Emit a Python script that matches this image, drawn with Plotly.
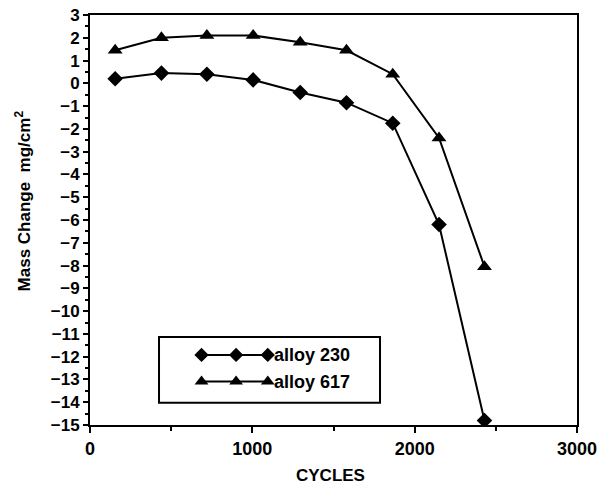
import plotly.graph_objects as go

# Cyclic oxidation: mass change vs. number of cycles
cycles = [155, 440, 720, 1005, 1295, 1580, 1865, 2150, 2430]
alloy_230 = [0.2, 0.45, 0.4, 0.15, -0.4, -0.85, -1.75, -6.2, -14.8]
alloy_617 = [1.45, 2.0, 2.1, 2.1, 1.8, 1.45, 0.4, -2.4, -8.05]

series_names = ["alloy 230", "alloy 617"]
series_symbols = ["diamond", "triangle-up"]

# Hand-drawn legend key: three markers joined by a line (axis-fraction units)
legend_key_x = [0.229, 0.300, 0.365]
legend_key_y = [0.171, 0.106]

FONT = "Liberation Sans, Arial, sans-serif"

fig = go.Figure()

for name, vals, sym in zip(series_names, [alloy_230, alloy_617], series_symbols):
    fig.add_trace(go.Scatter(
        x=cycles, y=vals, mode="lines+markers", name=name,
        line=dict(color="black", width=2),
        marker=dict(symbol=sym, size=12 if sym == "diamond" else 13, color="black"),
        showlegend=False,
    ))

# Legend keys drawn on an overlay axis spanning the plot area
for ky, sym, name in zip(legend_key_y, series_symbols, series_names):
    fig.add_trace(go.Scatter(
        x=legend_key_x, y=[ky] * len(legend_key_x), mode="lines+markers",
        xaxis="x2", yaxis="y2", showlegend=False, hoverinfo="skip",
        line=dict(color="black", width=2),
        marker=dict(symbol=sym, size=11 if sym == "diamond" else 12, color="black"),
    ))
    fig.add_annotation(
        xref="x2", yref="y2", x=legend_key_x[-1] + 0.008, y=ky,
        text=f"<b>{name}</b>", showarrow=False, xanchor="left", yanchor="middle",
        font=dict(family=FONT, size=18, color="black"),
    )

# Legend frame
fig.add_shape(type="rect", xref="x2", yref="y2",
              x0=0.1417, x1=0.5955, y0=0.054, y1=0.2146,
              line=dict(color="black", width=2), fillcolor="rgba(0,0,0,0)")

# Axis titles
fig.add_annotation(
    xref="paper", yref="paper", x=0.493, y=-0.124,
    text="<b>CYCLES</b>", showarrow=False, xanchor="center", yanchor="middle",
    font=dict(family=FONT, size=17, color="black"),
)
fig.add_annotation(
    xref="paper", yref="paper", x=-0.137, y=0.546, textangle=-90,
    text="<b>Mass Change  mg/cm<sup>2</sup></b>", showarrow=False,
    xanchor="center", yanchor="middle",
    font=dict(family=FONT, size=17, color="black"),
)

fig.update_layout(
    width=599, height=486,
    margin=dict(l=90, r=22, t=15, b=61),
    paper_bgcolor="white", plot_bgcolor="white",
    font=dict(family=FONT, color="black"),
    xaxis=dict(
        range=[0, 3000], tickvals=[0, 1000, 2000, 3000],
        ticktext=["<b>0</b>", "<b>1000</b>", "<b>2000</b>", "<b>3000</b>"],
        showgrid=False, zeroline=False, automargin=False,
        showline=True, mirror=True, linecolor="black", linewidth=2,
        ticks="outside", ticklen=6, tickwidth=2, tickcolor="black",
        minor=dict(ticks="outside", dtick=500, tick0=0, ticklen=4, tickwidth=1.5, tickcolor="black"),
        tickfont=dict(family=FONT, size=18),
    ),
    yaxis=dict(
        range=[-15, 3], tickvals=list(range(-15, 4)),
        ticktext=[f"<b>{v}</b>".replace("-", "\u2212") for v in range(-15, 4)],
        showgrid=False, zeroline=False, automargin=False,
        showline=True, mirror=True, linecolor="black", linewidth=2,
        ticks="outside", ticklen=5, tickwidth=2, tickcolor="black",
        minor=dict(ticks="outside", dtick=0.5, tick0=0, ticklen=3, tickwidth=1.5, tickcolor="black"),
        tickfont=dict(family=FONT, size=17),
    ),
    xaxis2=dict(range=[0, 1], overlaying="x", visible=False),
    yaxis2=dict(range=[0, 1], overlaying="y", visible=False),
)

fig.write_html("out.html")
